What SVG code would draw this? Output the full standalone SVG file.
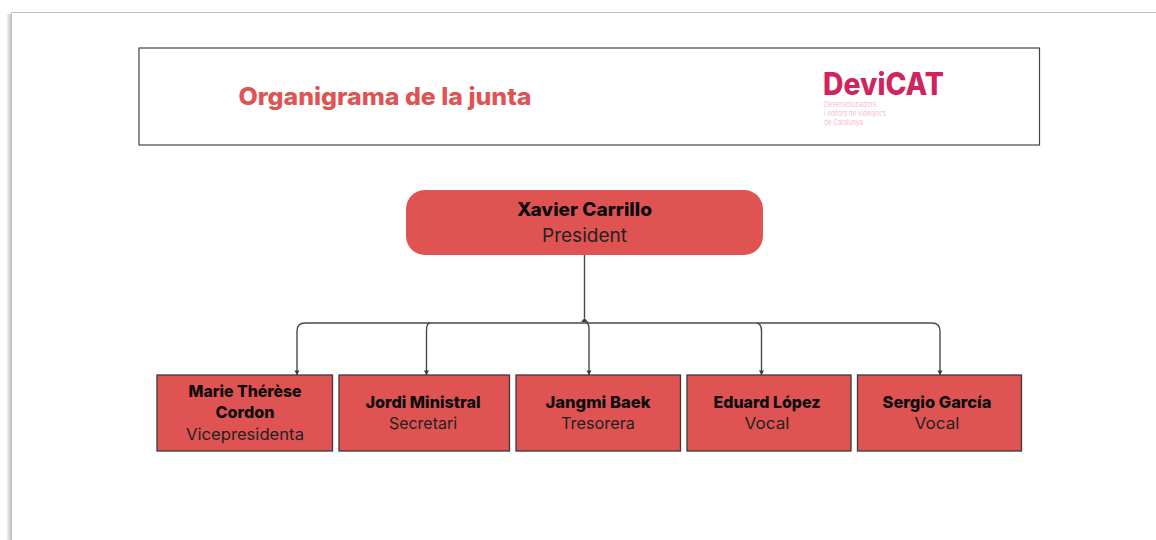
<svg xmlns="http://www.w3.org/2000/svg" width="1156" height="540" viewBox="0 0 1156 540">
<style>
text{font-family:"Inter","Noto Sans","Liberation Sans",sans-serif;text-anchor:middle}
.box{fill:#e05353;stroke:#3a3a3a;stroke-width:1.3}
.n{font-size:16.5px;font-weight:800;fill:#0c0c0c}
.r{font-size:16.5px;font-weight:400;fill:#222}
.c{fill:none;stroke:#4a4a4a;stroke-width:1.4}
.sm{font-size:7.5px;font-weight:300;fill:#efa9bf;text-anchor:start}
</style>
<defs>
<linearGradient id="sh" x1="0" x2="1" y1="0" y2="0"><stop offset="0" stop-color="#fff"/><stop offset="1" stop-color="#c4c4c4"/></linearGradient>
<marker id="a" markerWidth="6" markerHeight="6" refX="5" refY="3" orient="auto" viewBox="0 0 6 6" markerUnits="userSpaceOnUse"><path d="M0.500 0.500L5 3L0.500 5.500Z" fill="#3a3a3a"/></marker>
</defs>
<rect width="1156" height="540" fill="#fff"/>
<rect x="6" y="14" width="5" height="526" fill="url(#sh)"/>
<path d="M11.500 540V12.500H1156" fill="none" stroke="#c0c0c0" stroke-width="1"/>
<g id="header">
<rect x="139" y="48" width="900.500" height="97" fill="#fff" stroke="#444" stroke-width="1.200"/>
<text x="385" y="104.500" font-size="24" font-weight="800" fill="#e05353" textLength="293" lengthAdjust="spacingAndGlyphs">Organigrama de la junta</text>
</g>
<g id="logo">
<text x="823" y="95" font-size="31" font-weight="800" fill="#d0245c" style="text-anchor:start" textLength="121" lengthAdjust="spacingAndGlyphs">DeviCAT</text>
<text class="sm" x="824" y="107" textLength="52" lengthAdjust="spacingAndGlyphs">Desenvolupadors</text>
<text class="sm" x="824" y="116" textLength="62" lengthAdjust="spacingAndGlyphs">i editors de videojocs</text>
<text class="sm" x="824" y="125" textLength="39" lengthAdjust="spacingAndGlyphs">de Catalunya</text>
</g>
<g id="connectors">
<path class="c" d="M584.500 255V318"/>
<path d="M581 322L584.500 318L588 322Z" fill="#3a3a3a"/>
<path class="c" d="M584 323H305Q297 323 297 331V375" marker-end="url(#a)"/>
<path class="c" d="M430 323Q426.500 323 426.500 331V375" marker-end="url(#a)"/>
<path class="c" d="M585 321Q589 323 589 329V375" marker-end="url(#a)"/>
<path class="c" d="M757 323Q761.500 324 761.500 331V375" marker-end="url(#a)"/>
<path class="c" d="M584 323H932Q940 323 940 331V375" marker-end="url(#a)"/>
</g>
<g id="president">
<rect x="406" y="190" width="357" height="65" rx="19" fill="#e05353"/>
<text x="584.500" y="216" font-size="18.500" font-weight="800" fill="#0c0c0c" textLength="135" lengthAdjust="spacingAndGlyphs">Xavier Carrillo</text>
<text x="584.500" y="241.500" font-size="18.500" fill="#222" textLength="85" lengthAdjust="spacingAndGlyphs">President</text>
</g>
<g id="vicepresidenta">
<rect class="box" x="157" y="375" width="175.500" height="76"/>
<text class="n" x="245" y="397" textLength="113" lengthAdjust="spacingAndGlyphs">Marie Thérèse</text>
<text class="n" x="245" y="418" textLength="59" lengthAdjust="spacingAndGlyphs">Cordon</text>
<text class="r" x="245" y="440" textLength="118" lengthAdjust="spacingAndGlyphs">Vicepresidenta</text>
</g>
<g id="secretari">
<rect class="box" x="339" y="375" width="170.500" height="76"/>
<text class="n" x="423" y="407.500" textLength="115" lengthAdjust="spacingAndGlyphs">Jordi Ministral</text>
<text class="r" x="423" y="429" textLength="68" lengthAdjust="spacingAndGlyphs">Secretari</text>
</g>
<g id="tresorera">
<rect class="box" x="516" y="375" width="164.500" height="76"/>
<text class="n" x="598" y="407.500" textLength="105" lengthAdjust="spacingAndGlyphs">Jangmi Baek</text>
<text class="r" x="598" y="429" textLength="74" lengthAdjust="spacingAndGlyphs">Tresorera</text>
</g>
<g id="vocal-eduard">
<rect class="box" x="687" y="375" width="164" height="76"/>
<text class="n" x="767" y="407.500" textLength="107" lengthAdjust="spacingAndGlyphs">Eduard López</text>
<text class="r" x="767" y="429" textLength="45" lengthAdjust="spacingAndGlyphs">Vocal</text>
</g>
<g id="vocal-sergio">
<rect class="box" x="857.500" y="375" width="164" height="76"/>
<text class="n" x="937" y="407.500" textLength="109" lengthAdjust="spacingAndGlyphs">Sergio García</text>
<text class="r" x="937" y="429" textLength="45" lengthAdjust="spacingAndGlyphs">Vocal</text>
</g>
</svg>
